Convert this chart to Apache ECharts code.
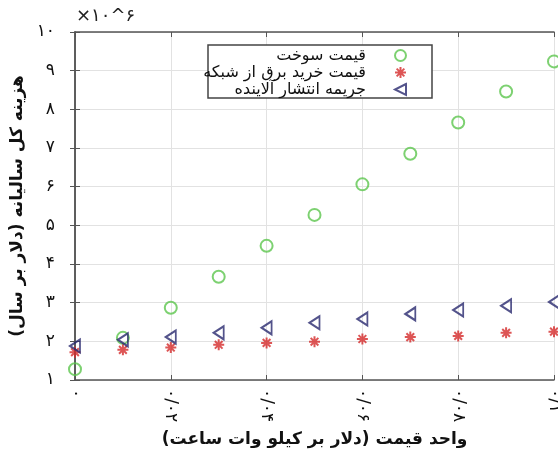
<!DOCTYPE html>
<html>
<head>
<meta charset="utf-8">
<script src="https://cdn.jsdelivr.net/npm/echarts@6/dist/echarts.min.js"></script>
<style>
  html, body { margin: 0; padding: 0; background: #fff; }
  #chart { width: 558px; height: 451px; }
</style>
</head>
<body>
<div id="chart"></div>
<script>
// x values (dollar per kWh)
var xs = [0, 0.01, 0.02, 0.03, 0.04, 0.05, 0.06, 0.07, 0.08, 0.09, 0.1]
// yearly cost, x10^6
var fuelCost = [1.28, 2.09, 2.87, 3.67, 4.47, 5.27, 6.06, 6.85, 7.66, 8.46, 9.24]
var gridCost = [1.72, 1.78, 1.84, 1.91, 1.96, 1.99, 2.06, 2.11, 2.14, 2.22, 2.25]
var emissionCost = [1.88, 2.04, 2.11, 2.22, 2.35, 2.48, 2.58, 2.71, 2.81, 2.92, 3.02]
var names = ['قیمت سوخت', 'قیمت خرید برق از شبکه', 'جریمه انتشار آلاینده']

var RLM = '\u200F'
var fa = function (s) {
  return String(s).replace(/[0-9]/g, function (d) { return '۰۱۲۳۴۵۶۷۸۹'[+d] }).replace('.', '/')
}
var pairs = function (ys) { return xs.map(function (x, i) { return [x, ys[i]] }) }

var font = 'DejaVu Sans'
var Chart = echarts.init(document.getElementById('chart'))
var option = {
  animation: false,
  textStyle: { fontFamily: font },
  grid: { left: 75, right: 4, top: 32, bottom: 71, outerBoundsMode: 'none' },
  graphic: [
    {
      type: 'rect', z: 3,
      shape: { x: 208, y: 45, width: 224, height: 53 },
      style: { fill: '#fff', stroke: '#444', lineWidth: 1.5 }
    },
    {
      type: 'text', left: 76, top: 7,
      style: { text: '×۱۰^۶', fontSize: 18, fill: '#222', fontFamily: font }
    }
  ],
  legend: {
    data: names,
    orient: 'vertical',
    align: 'right',
    right: 146,
    top: 42,
    z: 5,
    itemWidth: 11,
    itemHeight: 11,
    itemGap: 0,
    textStyle: { fontSize: 16, lineHeight: 17, color: '#111', padding: [0, 24, 0, 0] }
  },
  xAxis: [
    {
      type: 'value',
      min: 0, max: 0.1, interval: 0.02,
      name: RLM + 'واحد قیمت (دلار بر کیلو وات ساعت)' + RLM,
      nameLocation: 'middle',
      nameGap: 51,
      nameTextStyle: { fontSize: 17, fontWeight: 'bold', color: '#111' },
      axisLine: { lineStyle: { color: '#555', width: 1.5 } },
      axisTick: { inside: true, length: 5, lineStyle: { color: '#555' } },
      axisLabel: { rotate: -90, fontSize: 17, color: '#111', margin: 9,
        formatter: function (v) { return fa(+v.toFixed(2)) } },
      splitLine: { lineStyle: { color: '#e2e2e2' } }
    },
    {
      type: 'value', position: 'top',
      min: 0, max: 0.1, interval: 0.02,
      axisLine: { lineStyle: { color: '#555', width: 1.5 } },
      axisTick: { inside: true, length: 5, lineStyle: { color: '#555' } },
      axisLabel: { show: false },
      splitLine: { show: false }
    }
  ],
  yAxis: [
    {
      type: 'value',
      min: 1, max: 10, interval: 1,
      name: RLM + 'هزینه کل سالیانه (دلار بر سال)' + RLM,
      nameLocation: 'middle',
      nameGap: 48,
      nameTextStyle: { fontSize: 17, fontWeight: 'bold', color: '#111' },
      axisLine: { lineStyle: { color: '#555', width: 1.5 } },
      axisTick: { inside: true, length: 5, lineStyle: { color: '#555' } },
      axisLabel: { fontSize: 17, color: '#111', margin: 20,
        formatter: function (v) { return fa(v) } },
      splitLine: { lineStyle: { color: '#e2e2e2' } }
    },
    {
      type: 'value', position: 'right',
      min: 1, max: 10, interval: 1,
      axisLine: { lineStyle: { color: '#555', width: 1.5 } },
      axisTick: { inside: true, length: 5, lineStyle: { color: '#555' } },
      axisLabel: { show: false },
      splitLine: { show: false }
    }
  ],
  series: [
    {
      name: names[0], type: 'scatter',
      symbol: 'circle', symbolSize: 12,
      itemStyle: { color: 'transparent', borderColor: '#5cc64e', borderWidth: 2 },
      data: pairs(fuelCost)
    },
    {
      name: names[1], type: 'scatter',
      symbol: 'path://M0 -1 L0 1 M-1 0 L1 0 M-0.7 -0.7 L0.7 0.7 M-0.7 0.7 L0.7 -0.7',
      symbolKeepAspect: true, symbolSize: 11,
      itemStyle: { color: 'transparent', borderColor: '#d42a2a', borderWidth: 2 },
      data: pairs(gridCost)
    },
    {
      name: names[2], type: 'scatter',
      symbol: 'path://M1 -1 L-1 0 L1 1 Z',
      symbolSize: [10, 13],
      itemStyle: { color: 'transparent', borderColor: '#28286e', borderWidth: 2 },
      data: pairs(emissionCost)
    }
  ]
}
Chart.setOption(option)
</script>
</body>
</html>
